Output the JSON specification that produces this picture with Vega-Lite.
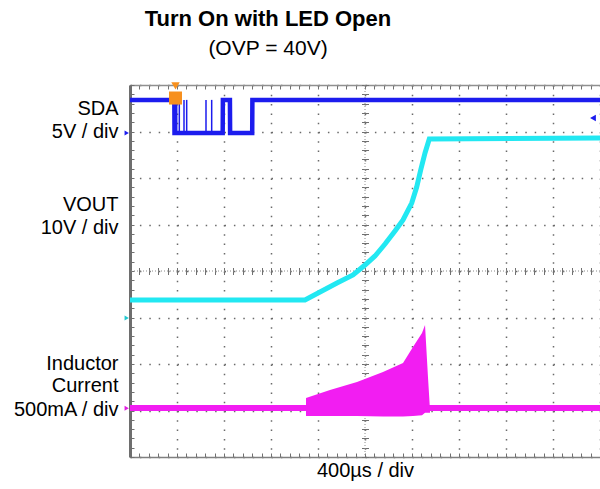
{
  "$schema": "https://vega.github.io/schema/vega-lite/v6.json",
  "width": 470,
  "height": 372,
  "autosize": {"type": "none"},
  "padding": {"left": 130, "top": 85, "right": 0, "bottom": 32},
  "background": "white",
  "config": {"view": {"stroke": null}, "font": "Liberation Sans"},
  "title": {
    "text": "Turn On with LED Open",
    "subtitle": "(OVP = 40V)",
    "font": "Liberation Sans",
    "subtitleFont": "Liberation Sans",
    "fontSize": 22,
    "fontWeight": "bold",
    "color": "black",
    "subtitleFontSize": 21,
    "subtitleColor": "black",
    "subtitlePadding": 7,
    "anchor": "middle",
    "dx": -97,
    "offset": 22
  },
  "datasets": {
    "sda": [
      {"t": 0, "v": 7.68}, {"t": 0.943, "v": 7.68}, {"t": 0.947, "v": 6.97},
      {"t": 1.972, "v": 6.97}, {"t": 1.976, "v": 7.68}, {"t": 2.126, "v": 7.68},
      {"t": 2.13, "v": 6.97}, {"t": 2.6, "v": 6.97}, {"t": 2.604, "v": 7.68}, {"t": 10, "v": 7.68}
    ],
    "spikes": [
      {"t": 0.994}, {"t": 1.049}, {"t": 1.149}, {"t": 1.206}, {"t": 1.617}, {"t": 1.738}
    ],
    "vout": [
      {"t": 0, "v": 3.376}, {"t": 3.723, "v": 3.376}, {"t": 4.043, "v": 3.548},
      {"t": 4.404, "v": 3.742}, {"t": 4.745, "v": 3.914}, {"t": 5.0, "v": 4.129},
      {"t": 5.213, "v": 4.323}, {"t": 5.426, "v": 4.581}, {"t": 5.638, "v": 4.86},
      {"t": 5.809, "v": 5.097}, {"t": 5.994, "v": 5.462}, {"t": 6.1, "v": 5.806},
      {"t": 6.185, "v": 6.172}, {"t": 6.277, "v": 6.538}, {"t": 6.368, "v": 6.839},
      {"t": 10, "v": 6.86}
    ],
    "cur": [
      {"t": 3.745, "hi": 1.269, "lo": 0.88}, {"t": 4.255, "hi": 1.441, "lo": 0.88},
      {"t": 4.83, "hi": 1.613, "lo": 0.88}, {"t": 5.383, "hi": 1.828, "lo": 0.87},
      {"t": 5.809, "hi": 2.022, "lo": 0.87}, {"t": 6.021, "hi": 2.366, "lo": 0.88},
      {"t": 6.213, "hi": 2.667, "lo": 0.9}, {"t": 6.277, "hi": 2.839, "lo": 0.95},
      {"t": 6.34, "hi": 1.72, "lo": 0.95}, {"t": 6.383, "hi": 1.011, "lo": 0.95}
    ],
    "curbase": [{"t": 0, "v": 1.054}, {"t": 10, "v": 1.054}],
    "markers": [
      {"kind": "trig", "t": 0.968, "v": 7.98},
      {"kind": "tbox", "t": 0.968, "v": 7.72},
      {"kind": "c1", "t": -0.07, "v": 6.97},
      {"kind": "c2", "t": -0.07, "v": 2.99},
      {"kind": "c3", "t": -0.07, "v": 1.05},
      {"kind": "lvl", "t": 9.85, "v": 7.29}
    ]
  },
  "resolve": {"axis": {"x": "independent", "y": "independent"}},
  "layer": [
    {
      "data": {"values": [{}]},
      "mark": {"type": "rule", "color": "#8c8c8c", "strokeDash": [1, 2], "strokeWidth": 1},
      "encoding": {"y": {"datum": 4, "type": "quantitative", "scale": {"domain": [0, 8], "nice": false, "zero": false}, "axis": null}}
    },
    {
      "data": {"values": [{}]},
      "mark": {"type": "rule", "color": "#8c8c8c", "strokeDash": [1, 2], "strokeWidth": 1},
      "encoding": {"x": {"datum": 5, "type": "quantitative", "scale": {"domain": [0, 10], "nice": false, "zero": false}, "axis": null}}
    },
    {
      "data": {"name": "cur"},
      "mark": {"type": "area", "color": "#f21df2", "opacity": 1},
      "encoding": {
        "x": {"field": "t", "type": "quantitative", "scale": {"domain": [0, 10], "nice": false, "zero": false},
          "axis": {"orient": "bottom", "values": [0,0.2,0.4,0.6,0.8,1,1.2,1.4,1.6,1.8,2,2.2,2.4,2.6,2.8,3,3.2,3.4,3.6,3.8,4,4.2,4.4,4.6,4.8,5,5.2,5.4,5.6,5.8,6,6.2,6.4,6.6,6.8,7,7.2,7.4,7.6,7.8,8,8.2,8.4,8.6,8.8,9,9.2,9.4,9.6,9.8,10],
            "tickSize": -4, "tickColor": "#707070", "tickWidth": 1, "labels": false, "domain": false, "grid": false, "title": null}},
        "y": {"field": "hi", "type": "quantitative", "scale": {"domain": [0, 8], "nice": false, "zero": false},
          "axis": {"orient": "left", "values": [0,0.2,0.4,0.6,0.8,1,1.2,1.4,1.6,1.8,2,2.2,2.4,2.6,2.8,3,3.2,3.4,3.6,3.8,4,4.2,4.4,4.6,4.8,5,5.2,5.4,5.6,5.8,6,6.2,6.4,6.6,6.8,7,7.2,7.4,7.6,7.8,8],
            "tickSize": -4, "tickColor": "#707070", "tickWidth": 1, "labels": false, "domain": false, "grid": false, "title": null}},
        "y2": {"field": "lo"}
      }
    },
    {
      "data": {"name": "curbase"},
      "mark": {"type": "line", "color": "#f21df2", "strokeWidth": 6},
      "encoding": {
        "x": {"field": "t", "type": "quantitative", "scale": {"domain": [0, 10], "nice": false, "zero": false},
          "axis": {"orient": "top", "values": [0,0.2,0.4,0.6,0.8,1,1.2,1.4,1.6,1.8,2,2.2,2.4,2.6,2.8,3,3.2,3.4,3.6,3.8,4,4.2,4.4,4.6,4.8,5,5.2,5.4,5.6,5.8,6,6.2,6.4,6.6,6.8,7,7.2,7.4,7.6,7.8,8,8.2,8.4,8.6,8.8,9,9.2,9.4,9.6,9.8,10],
            "tickSize": -4, "tickColor": "#707070", "tickWidth": 1, "labels": false, "domain": true, "domainColor": "#909090", "domainWidth": 1.5, "grid": false, "title": null}},
        "y": {"field": "v", "type": "quantitative", "scale": {"domain": [0, 8], "nice": false, "zero": false},
          "axis": {"orient": "left", "values": [7.355, 6.88, 5.297, 4.817, 1.871, 1.404, 0.903], "format": ".3f",
            "labelExpr": "datum.value > 7.2 ? 'SDA' : datum.value > 6.5 ? '5V / div' : datum.value > 5 ? 'VOUT' : datum.value > 4.5 ? '10V / div' : datum.value > 1.6 ? 'Inductor' : datum.value > 1.2 ? 'Current' : '500mA / div'",
            "ticks": false, "domain": false, "grid": false, "title": null, "labelPadding": 12, "labelFontSize": 20,
            "labelFont": "Liberation Sans", "labelColor": "black", "labelBaseline": "alphabetic", "labelAlign": "right",
            "labelOverlap": false, "labelBound": false, "labelFlush": false}}
      }
    },
    {
      "data": {"name": "vout"},
      "mark": {"type": "line", "color": "#22e8f2", "strokeWidth": 5},
      "encoding": {
        "x": {"field": "t", "type": "quantitative", "scale": {"domain": [0, 10], "nice": false, "zero": false},
          "axis": {"orient": "bottom", "values": [0,1,2,3,4,5,6,7,8,9,10], "grid": true, "gridDash": [1.5, 7.8], "gridColor": "#6a6a6a", "gridWidth": 1.5,
            "ticks": false, "labels": false, "domain": true, "domainColor": "#808080", "domainWidth": 1.5,
            "title": "400µs / div", "titleFontSize": 20, "titleFontWeight": "normal", "titleColor": "black", "titleFont": "Liberation Sans", "titlePadding": 3}},
        "y": {"field": "v", "type": "quantitative", "scale": {"domain": [0, 8], "nice": false, "zero": false},
          "axis": {"orient": "left", "values": [0,1,2,3,4,5,6,7,8], "grid": true, "gridDash": [1.5, 7.9], "gridColor": "#6a6a6a", "gridWidth": 1.5,
            "ticks": false, "labels": false, "domain": true, "domainColor": "#6e6e6e", "domainWidth": 3, "title": null}}
      }
    },
    {
      "data": {"name": "sda"},
      "mark": {"type": "line", "color": "#1c1cee", "strokeWidth": 4.5},
      "encoding": {
        "x": {"field": "t", "type": "quantitative", "scale": {"domain": [0, 10], "nice": false, "zero": false},
          "axis": {"orient": "bottom", "offset": -182.5, "values": [0,0.2,0.4,0.6,0.8,1,1.2,1.4,1.6,1.8,2,2.2,2.4,2.6,2.8,3,3.2,3.4,3.6,3.8,4,4.2,4.4,4.6,4.8,5,5.2,5.4,5.6,5.8,6,6.2,6.4,6.6,6.8,7,7.2,7.4,7.6,7.8,8,8.2,8.4,8.6,8.8,9,9.2,9.4,9.6,9.8,10],
            "tickSize": -7, "tickColor": "#707070", "tickWidth": 1, "labels": false, "domain": false, "grid": false, "title": null}},
        "y": {"field": "v", "type": "quantitative", "scale": {"domain": [0, 8], "nice": false, "zero": false},
          "axis": {"orient": "left", "offset": -231.5, "values": [0,0.2,0.4,0.6,0.8,1,1.2,1.4,1.6,1.8,2,2.2,2.4,2.6,2.8,3,3.2,3.4,3.6,3.8,4,4.2,4.4,4.6,4.8,5,5.2,5.4,5.6,5.8,6,6.2,6.4,6.6,6.8,7,7.2,7.4,7.6,7.8,8],
            "tickSize": -7, "tickColor": "#707070", "tickWidth": 1, "labels": false, "domain": false, "grid": false, "title": null}}
      }
    },
    {
      "data": {"name": "spikes"},
      "mark": {"type": "rule", "color": "#1c1cee", "strokeWidth": 1.5},
      "encoding": {
        "x": {"field": "t", "type": "quantitative", "scale": {"domain": [0, 10], "nice": false, "zero": false}, "axis": null},
        "y": {"datum": 6.97, "type": "quantitative", "scale": {"domain": [0, 8], "nice": false, "zero": false}, "axis": null},
        "y2": {"datum": 7.68}
      }
    },
    {
      "data": {"name": "markers"},
      "mark": {"type": "point", "filled": true, "opacity": 1},
      "encoding": {
        "x": {"field": "t", "type": "quantitative", "scale": {"domain": [0, 10], "nice": false, "zero": false}, "axis": null},
        "y": {"field": "v", "type": "quantitative", "scale": {"domain": [0, 8], "nice": false, "zero": false}, "axis": null},
        "color": {"field": "kind", "type": "nominal", "legend": null,
          "scale": {"domain": ["trig", "tbox", "c1", "c2", "c3", "lvl"], "range": ["#f7901e", "#f7901e", "#1c1cee", "#20c8d0", "#e01de0", "#1c1cee"]}},
        "shape": {"field": "kind", "type": "nominal", "legend": null,
          "scale": {"domain": ["trig", "tbox", "c1", "c2", "c3", "lvl"], "range": ["triangle-down", "square", "triangle-right", "triangle-right", "triangle-right", "triangle-left"]}},
        "size": {"field": "kind", "type": "ordinal", "legend": null,
          "scale": {"type": "ordinal", "domain": ["trig", "tbox", "c1", "c2", "c3", "lvl"], "range": [70, 170, 25, 25, 25, 45]}}
      }
    }
  ]
}
